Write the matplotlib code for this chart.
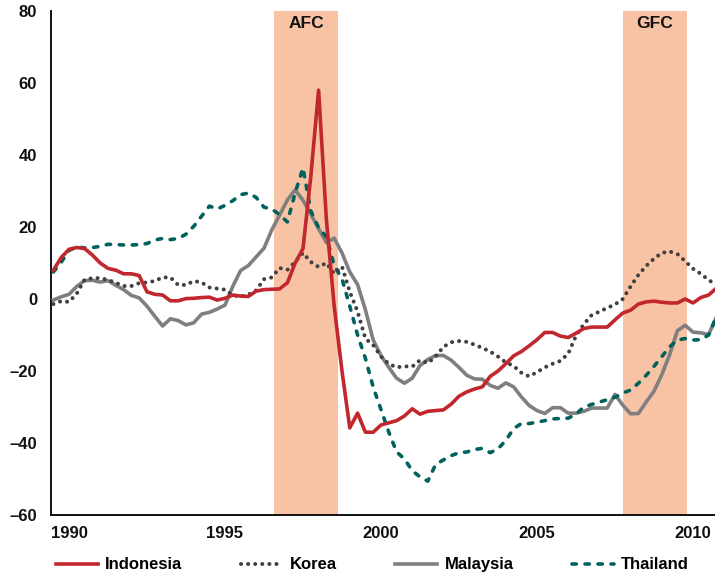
import numpy as np
import matplotlib
matplotlib.use("Agg")
import matplotlib.pyplot as plt

plt.rcParams['font.family'] = ['Liberation Sans', 'DejaVu Sans']
plt.rcParams['font.weight'] = 'bold'

# Quarterly observations starting 1989 Q3
start_year = 1989.5
indonesia = [8, 11.5, 13.8, 14.3, 14, 12.2, 10, 8.5, 8, 7, 7, 6.5, 2, 1.3, 1.1, -0.5, -0.5, 0.1, 0.2, 0.4,
             0.5, -0.3, 0.2, 1.1, 0.8, 0.7, 2.2, 2.6, 2.7, 2.8, 4.5, 10, 14, 34, 58, 22, -2, -20, -35.8, -31.7,
             -37, -37, -35, -34.4, -33.8, -32.5, -30.5, -32, -31.2, -31, -30.8, -29.2, -27, -25.8, -25, -24.4, -21.5, -20, -18, -15.8,
             -14.6, -13, -11.3, -9.3, -9.3, -10.3, -10.7, -9.5, -8.2, -7.8, -7.8, -7.8, -5.8, -3.9, -3.1, -1.4, -0.8, -0.6, -0.9, -1.1,
             -1.1, 0, -1.1, 0.4, 1.1, 3]
korea = [-1.4, -0.6, -0.8, 1.5, 5.4, 5.8, 5.8, 5.3, 4.5, 3.6, 3.6, 4.4, 4.6, 5, 6, 6, 3.9, 3.9, 5, 4.6,
         3.2, 2.9, 2.6, 1, 0.7, 1.2, 2.4, 5.5, 6, 8.6, 8.1, 10.3, 12.8, 10.3, 8.9, 10, 7, 9, 2, -3.5,
         -11, -12.8, -16, -18, -19, -18.7, -18.8, -17, -17.8, -16, -13.3, -12, -11.7, -11.9, -12.7, -13.6, -14.6, -16, -17.6, -18.6,
         -20.5, -21.5, -20.3, -19, -18, -17.2, -15.2, -10.2, -7, -4.5, -3.5, -2.5, -1.5, 0, 3.5, 6.7, 9.2, 11.2, 12.8, 13.2,
         12.5, 10.5, 8.4, 7, 5.3, 3.8]
malaysia = [-0.3, 0.6, 1.3, 3.5, 5.1, 5.2, 4.7, 5.1, 3.8, 2.6, 1, 0.3, -2, -4.8, -7.5, -5.5, -6, -7.2, -6.6, -4.2,
            -3.7, -2.8, -1.7, 3.5, 7.9, 9.3, 11.7, 14.1, 19.2, 23.3, 27.5, 30.3, 27.4, 23.6, 19.5, 15.7, 16.9, 12.8, 7.5, 4,
            -3, -11.4, -15.7, -19, -22, -23.4, -22, -18.5, -16.8, -15.7, -15.7, -17, -19, -21.2, -22.2, -22.3, -24, -24.8, -23.3, -24.4,
            -27.2, -29.6, -31, -31.8, -30.2, -30.2, -31.7, -31.7, -31.2, -30.3, -30.3, -30.3, -26.5, -29.5, -31.9, -31.8, -28.6, -25.6, -21, -15.5,
            -8.8, -7.3, -9.2, -9.4, -9.9, -5]
thailand = [7.5, 10.2, 13.5, 14.4, 14.2, 14.3, 14.6, 15.2, 15.1, 15, 15, 15.1, 15.4, 16.4, 16.8, 16.5, 16.8, 18, 20.2, 23,
            25.8, 25, 26, 27.3, 29, 29.4, 28.2, 25.5, 25, 23.4, 21.4, 29.5, 36.4, 24.5, 19.8, 17.3, 9.3, 5.6, -2, -10,
            -16.5, -24.5, -30.7, -37, -42.5, -44.4, -47.7, -49.4, -50.6, -46, -44.7, -43.5, -42.7, -42.5, -41.8, -41.5, -42.7, -41.6, -39.3, -36,
            -34.6, -34.6, -34.2, -33.8, -33.3, -33.2, -33.1, -32, -30, -29.3, -28.6, -28, -27.3, -26.1, -25.3, -23.4, -21.2, -18.7, -16, -13.3,
            -11.4, -11, -11.4, -11.3, -10, -5]

crisis_labels = ["AFC", "GFC"]
crisis_spans = [(1996.57, 1998.62), (2007.76, 2009.81)]

x_ticks = [1990, 1995, 2000, 2005, 2010]
y_ticks = [-60, -40, -20, 0, 20, 40, 60, 80]
y_tick_labels = ["\u201360", "\u201340", "\u201320", "0", "20", "40", "60", "80"]

x = start_year + 0.25 * np.arange(len(indonesia))

fig = plt.figure(figsize=(7.15, 5.78), dpi=100)
ax = fig.add_axes([0.0713, 0.109, 0.9287, 0.872])

for (a, b), lab in zip(crisis_spans, crisis_labels):
    ax.axvspan(a, b, color="#F8C3A4", lw=0, zorder=0)
    ax.text((a + b) / 2, 76.5, lab, ha="center", va="center", fontsize=12.5,
            fontweight="bold", color="#111111", zorder=1)

ax.plot(x, malaysia, color="#7F7F7F", lw=2.6, label="Malaysia", zorder=3,
        solid_joinstyle="round")
ax.plot(x, thailand, color="#00625C", lw=2.6, linestyle=(0, (1.2, 2.4)),
        dash_capstyle="round", label="Thailand", zorder=4)
ax.plot(x, korea, color="#404040", lw=2.9, linestyle=(0, (0.01, 1.75)),
        dash_capstyle="round", label="Korea", zorder=5)
ax.plot(x, indonesia, color="#C1272D", lw=2.6, label="Indonesia", zorder=6,
        solid_joinstyle="round")

ax.set_xlim(1989.423, 2010.705)
ax.set_ylim(-60, 80)
ax.set_xticks(x_ticks)
ax.set_xticklabels([str(t) for t in x_ticks])
ax.set_yticks(y_ticks)
ax.set_yticklabels(y_tick_labels)
ax.tick_params(axis="both", length=0, labelsize=12, colors="#111111")
ax.tick_params(axis="y", pad=10)
ax.tick_params(axis="x", pad=8)
for lab in ax.get_xticklabels() + ax.get_yticklabels():
    lab.set_fontweight("bold")

for s in ["top", "right"]:
    ax.spines[s].set_visible(False)
for s in ["left", "bottom"]:
    ax.spines[s].set_linewidth(1.4)
    ax.spines[s].set_color("#111111")

handles, labels = ax.get_legend_handles_labels()
order = ["Indonesia", "Korea", "Malaysia", "Thailand"]
hmap = dict(zip(labels, handles))
leg = fig.legend([hmap[o] for o in order], order, loc="center",
                 bbox_to_anchor=(0.521, 0.0225), ncol=4, frameon=False,
                 handlelength=2.5, handletextpad=0.45,
                 columnspacing=3.5, prop={"weight": "bold", "size": 12})

fig.savefig("out.png", dpi=100)
